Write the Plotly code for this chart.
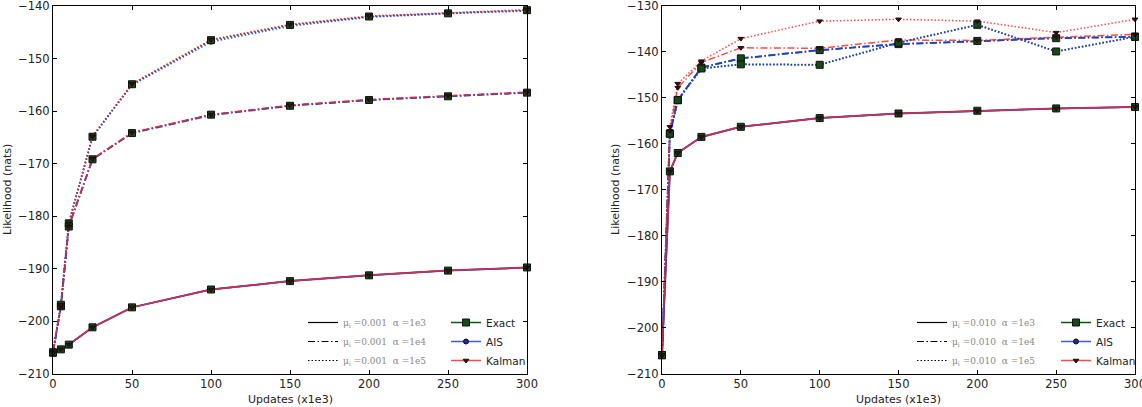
import plotly.graph_objects as go

W, H = 1142, 407

# ---------------- data ----------------
x_updates = [0, 5, 10, 25, 50, 100, 150, 200, 250, 300]
x_ticks = [0, 50, 100, 150, 200, 250, 300]

# left panel (mu_i = 0.001)
left_exact_1e3 = [-206.0, -205.4, -204.5, -201.2, -197.4, -194.0, -192.4, -191.3, -190.4, -189.8]
left_ais_1e3 = [-206.0, -205.4, -204.5, -201.2, -197.4, -194.0, -192.4, -191.3, -190.4, -189.8]
left_kalman_1e3 = [-206.0, -205.4, -204.5, -201.2, -197.4, -194.0, -192.4, -191.3, -190.4, -189.8]
left_exact_1e4 = [-206.0, -197.2, -182.0, -169.2, -164.2, -160.7, -159.0, -157.9, -157.2, -156.5]
left_ais_1e4 = [-206.0, -197.2, -182.0, -169.2, -164.2, -160.8, -159.0, -157.9, -157.2, -156.5]
left_kalman_1e4 = [-206.0, -197.2, -182.0, -169.1, -164.1, -160.7, -158.9, -157.8, -157.1, -156.4]
left_exact_1e5 = [-206.0, -196.9, -181.4, -164.9, -154.9, -146.5, -143.6, -142.0, -141.4, -140.8]
left_ais_1e5 = [-206.0, -196.9, -181.4, -164.9, -155.0, -146.8, -143.8, -142.1, -141.4, -140.9]
left_kalman_1e5 = [-206.0, -196.9, -181.4, -164.8, -154.8, -146.4, -143.5, -141.9, -141.3, -140.7]

# right panel (mu_i = 0.010)
right_exact_1e3 = [-206.0, -166.0, -162.0, -158.5, -156.3, -154.4, -153.4, -152.8, -152.3, -152.0]
right_ais_1e3 = [-206.0, -166.0, -162.0, -158.5, -156.3, -154.4, -153.4, -152.8, -152.3, -152.0]
right_kalman_1e3 = [-206.0, -166.0, -162.0, -158.5, -156.3, -154.4, -153.4, -152.8, -152.3, -152.0]
right_exact_1e4 = [-206.0, -157.8, -150.5, -143.4, -141.4, -139.6, -138.3, -137.6, -137.0, -136.7]
right_ais_1e4 = [-206.0, -157.8, -150.5, -143.4, -141.4, -139.6, -138.3, -137.6, -137.0, -136.7]
right_kalman_1e4 = [-206.0, -157.2, -147.8, -142.3, -139.1, -139.2, -137.4, -137.5, -136.8, -136.2]
right_exact_1e5 = [-206.0, -157.8, -150.5, -143.6, -142.7, -142.8, -138.0, -134.1, -139.9, -136.7]
right_ais_1e5 = [-206.0, -157.8, -150.5, -143.6, -142.7, -142.8, -138.0, -134.1, -139.9, -136.7]
right_kalman_1e5 = [-206.0, -156.3, -146.9, -142.0, -137.1, -133.3, -132.9, -133.3, -135.8, -132.9]

alpha_labels = ["1e3", "1e4", "1e5"]
methods = ["Exact", "AIS", "Kalman"]
left_mu = "0.001"
right_mu = "0.010"

# ---------------- styles ----------------
DASH = {"1e3": "solid", "1e4": "7px,2.5px,1.5px,2.5px", "1e5": "1.5px,2px"}
LINE_COLOR = {"Exact": "#0a5a0a", "AIS": "rgba(30,60,230,0.85)", "Kalman": "rgba(255,40,40,0.85)"}
LINE_W = {"Exact": 1.5, "AIS": 2.0, "Kalman": 1.5}
MARKER = {
    "Exact": dict(symbol="square", size=7, color="#134a16", line=dict(color="#111", width=1)),
    "AIS": dict(symbol="circle", size=5, color="#1a2aa0", line=dict(color="#111", width=1)),
    "Kalman": dict(symbol="triangle-down", size=5, color="#4a0a0a", line=dict(color="#111", width=1)),
}

fig = go.Figure()

panels = [
    ("x", "y", {
        ("Exact", "1e3"): left_exact_1e3, ("AIS", "1e3"): left_ais_1e3, ("Kalman", "1e3"): left_kalman_1e3,
        ("Exact", "1e4"): left_exact_1e4, ("AIS", "1e4"): left_ais_1e4, ("Kalman", "1e4"): left_kalman_1e4,
        ("Exact", "1e5"): left_exact_1e5, ("AIS", "1e5"): left_ais_1e5, ("Kalman", "1e5"): left_kalman_1e5,
    }),
    ("x2", "y2", {
        ("Exact", "1e3"): right_exact_1e3, ("AIS", "1e3"): right_ais_1e3, ("Kalman", "1e3"): right_kalman_1e3,
        ("Exact", "1e4"): right_exact_1e4, ("AIS", "1e4"): right_ais_1e4, ("Kalman", "1e4"): right_kalman_1e4,
        ("Exact", "1e5"): right_exact_1e5, ("AIS", "1e5"): right_ais_1e5, ("Kalman", "1e5"): right_kalman_1e5,
    }),
]

for xa, ya, series in panels:
    # lines
    for a in alpha_labels:
        for m in methods:
            fig.add_trace(go.Scatter(
                x=x_updates, y=series[(m, a)], xaxis=xa, yaxis=ya, mode="lines",
                line=dict(color=LINE_COLOR[m], width=LINE_W[m], dash=DASH[a]),
                showlegend=False, hoverinfo="skip"))
    # markers
    for m in ["AIS", "Exact", "Kalman"]:
        for a in alpha_labels:
            fig.add_trace(go.Scatter(
                x=x_updates, y=series[(m, a)], xaxis=xa, yaxis=ya, mode="markers",
                marker=MARKER[m], showlegend=False, hoverinfo="skip", cliponaxis=False))

# legend entries
for legend_style, legend_meth, mu in [("legend", "legend2", left_mu), ("legend3", "legend4", right_mu)]:
    xa = "x" if legend_style == "legend" else "x2"
    ya = "y" if legend_style == "legend" else "y2"
    for a in alpha_labels:
        fig.add_trace(go.Scatter(
            x=[None], y=[None], xaxis=xa, yaxis=ya, mode="lines",
            line=dict(color="black", width=1.2, dash=DASH[a]),
            name=f"μ<sub>i</sub> ={mu}  α =1e{a[-1]}", legend=legend_style))
    for m in methods:
        fig.add_trace(go.Scatter(
            x=[None], y=[None], xaxis=xa, yaxis=ya, mode="lines+markers",
            line=dict(color=LINE_COLOR[m], width=1.5), marker=MARKER[m],
            name=m, legend=legend_meth))

def px(v):
    return v / W

def py(v):
    return 1 - v / H

axis_common = dict(
    showline=True, linecolor="black", linewidth=1, mirror="allticks",
    ticks="inside", ticklen=4, tickcolor="black", tickwidth=1,
    showgrid=False, zeroline=False, automargin=False, ticklabeloverflow="allow",
    tickfont=dict(family="DejaVu Sans", size=11.5, color="#222"),
)

style_font = dict(family="DejaVu Serif", size=9, color="#888")
meth_font = dict(family="DejaVu Sans", size=10.5, color="#222")
leg_common = dict(bgcolor="rgba(0,0,0,0)", borderwidth=0, xanchor="left", yanchor="top",
                  tracegroupgap=0, itemwidth=30)

title_font = dict(family="DejaVu Sans", size=11, color="#222")

fig.update_layout(
    width=W, height=H,
    margin=dict(l=0, r=0, t=0, b=0),
    paper_bgcolor="white", plot_bgcolor="white",
    xaxis=dict(domain=[px(53), px(527)], range=[0, 300], tickvals=x_ticks, anchor="y", **axis_common),
    yaxis=dict(domain=[py(373.5), py(6)], range=[-210, -140], dtick=10, anchor="x", **axis_common),
    xaxis2=dict(domain=[px(662), px(1135)], range=[0, 300], tickvals=x_ticks, anchor="y2", **axis_common),
    yaxis2=dict(domain=[py(373.5), py(6)], range=[-210, -130], dtick=10, anchor="x2", **axis_common),
    legend=dict(x=px(303), y=py(308), font=style_font, **leg_common),
    legend2=dict(x=px(446), y=py(308), font=meth_font, **leg_common),
    legend3=dict(x=px(912), y=py(308), font=style_font, **leg_common),
    legend4=dict(x=px(1056), y=py(308), font=meth_font, **leg_common),
    annotations=[
        dict(text="Updates (x1e3)", x=px(290), y=py(399), xref="paper", yref="paper",
             xanchor="center", yanchor="middle", showarrow=False, font=title_font),
        dict(text="Updates (x1e3)", x=px(898), y=py(399), xref="paper", yref="paper",
             xanchor="center", yanchor="middle", showarrow=False, font=title_font),
        dict(text="Likelihood (nats)", x=px(7), y=py(190), xref="paper", yref="paper",
             xanchor="center", yanchor="middle", showarrow=False, textangle=-90, font=title_font),
        dict(text="Likelihood (nats)", x=px(615), y=py(190), xref="paper", yref="paper",
             xanchor="center", yanchor="middle", showarrow=False, textangle=-90, font=title_font),
    ],
)

fig.write_html("out.html")
